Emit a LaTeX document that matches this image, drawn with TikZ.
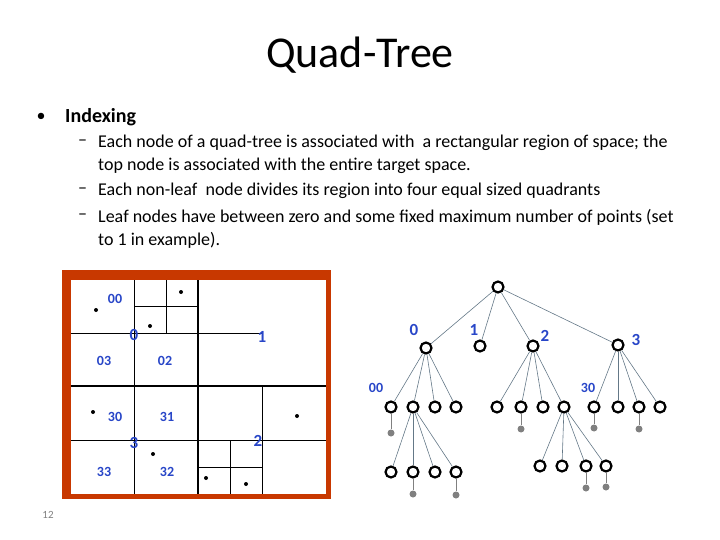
\documentclass[tikz,border=0pt]{standalone}
\usepackage{fontspec}
\setmainfont{Carlito}
\definecolor{qblue}{RGB}{40,70,200}
\definecolor{qred}{RGB}{200,56,0}
\definecolor{edge}{RGB}{100,120,135}
\begin{document}
\begin{tikzpicture}[x=1pt,y=-1pt,
  txt/.style={anchor=west,inner sep=0,font=\fontsize{18}{20}\selectfont},
  lab/.style={inner sep=0,text=qblue,font=\fontsize{17}{18}\selectfont\bfseries},
  slab/.style={inner sep=0,text=qblue,font=\fontsize{14}{15}\selectfont\bfseries},
  tnode/.style={circle,draw=black,line width=2.2pt,minimum size=11pt,inner sep=0},
  leaf/.style={circle,fill=gray,minimum size=7pt,inner sep=0},
  dot/.style={circle,fill=black,minimum size=4pt,inner sep=0},
  ed/.style={draw=edge,line width=0.6pt}]
\useasboundingbox (0,0) rectangle (720,540);
% text
\node[inner sep=0,font=\fontsize{44}{46}\selectfont] (title) at (360,55) {Quad-Tree};
\node[inner sep=0,font=\fontsize{18}{20}\selectfont] (b1) at (41,117) {•};
\node[txt,font=\fontsize{20}{22}\selectfont\bfseries] (h1) at (65,117) {Indexing};
\foreach \y/\n in {143/d1,191/d2,217/d3}{\node[txt] (\n) at (78,\y) {–};}
\node[txt] (l1) at (98,143) {Each node of a quad-tree is associated with \ a rectangular region of space; the};
\node[txt] (l2) at (98,166) {top node is associated with the entire target space.};
\node[txt] (l3) at (98,191) {Each non-leaf \ node divides its region into four equal sized quadrants};
\node[txt] (l4) at (98,217) {Leaf nodes have between zero and some fixed maximum number of points (set};
\node[txt] (l5) at (98,240) {to 1 in example).};
\node[inner sep=0,text=gray,font=\fontsize{11}{12}\selectfont] (pg) at (48,515) {12};
% quad region
\fill[qred] (62,270) rectangle (331,499);
\fill[white] (71,280) rectangle (326,494);
\draw[line width=0.8pt] (198,280)--(198,494) (71,386)--(326,386)
  (134,280)--(134,386) (71,333)--(262,333) (134,386)--(134,494) (71,440)--(326,440)
  (262,386)--(262,494) (166,280)--(166,333) (134,306)--(198,306)
  (230,440)--(230,494) (198,467)--(262,467);
\draw[line width=1.4pt] (198,280)--(198,494) (71,386)--(326,386);
\foreach \p/\n in {{(96,310)}/q1,{(181,292)}/q2,{(150,326)}/q3,{(93,412)}/q4,{(153,454)}/q5,{(297,416)}/q6,{(206,478)}/q7,{(246,484)}/q8}
  {\node[dot] (\n) at \p {};}
\foreach \p/\t/\n in {{(115,299)}/00/a1,{(104,361)}/03/a2,{(165,361)}/02/a3,{(115,417)}/30/a4,{(167,417)}/31/a5,{(104,472)}/33/a6,{(167,472)}/32/a7}
  {\node[slab] (\n) at \p {\t};}
\foreach \p/\t/\n in {{(134,335)}/0/c1,{(262,337)}/1/c2,{(134,443)}/3/c3,{(258,441)}/2/c4}
  {\node[lab] (\n) at \p {\t};}
% tree
\node[tnode] (r) at (498,287) {};
\node[tnode] (n0) at (426,348) {};
\node[tnode] (n1) at (480,346) {};
\node[tnode] (n2) at (533,346) {};
\node[tnode] (n3) at (618,345) {};
\foreach \i in {n0,n1,n2,n3} {\draw[ed] (r)--(\i);}
\foreach \x [count=\k from 0] in {391,413,435,456} {\node[tnode] (n0\k) at (\x,407) {}; \draw[ed] (n0)--(n0\k);}
\foreach \x [count=\k from 0] in {497,521,543,564} {\node[tnode] (n2\k) at (\x,407) {}; \draw[ed] (n2)--(n2\k);}
\foreach \x [count=\k from 0] in {594,618,639,660} {\node[tnode] (n3\k) at (\x,407) {}; \draw[ed] (n3)--(n3\k);}
\foreach \x [count=\k from 0] in {391,413,435,456} {\node[tnode] (n01\k) at (\x,472) {}; \draw[ed] (n01)--(n01\k);}
\foreach \x [count=\k from 0] in {540,562,586,606} {\node[tnode] (n23\k) at (\x,466) {}; \draw[ed] (n23)--(n23\k);}
\foreach \p/\pp/\n in {{(391,433)}/n00/g1,{(521,429)}/n21/g2,{(594,428)}/n30/g3,{(639,429)}/n32/g4,{(413,494)}/n011/g5,{(456,495)}/n013/g6,{(586,488)}/n232/g7,{(606,487)}/n233/g8}
  {\node[leaf] (\n) at \p {}; \draw[ed,draw=gray,line width=0.8pt] (\pp)--(\n);}
\node[lab] (t0) at (414,330) {0};
\node[lab] (t1) at (474,330) {1};
\node[lab] (t2) at (545,336) {2};
\node[lab] (t3) at (636,340) {3};
\node[slab] (t00) at (376,388) {00};
\node[slab] (t30) at (588,388) {30};
\end{tikzpicture}
\end{document}
